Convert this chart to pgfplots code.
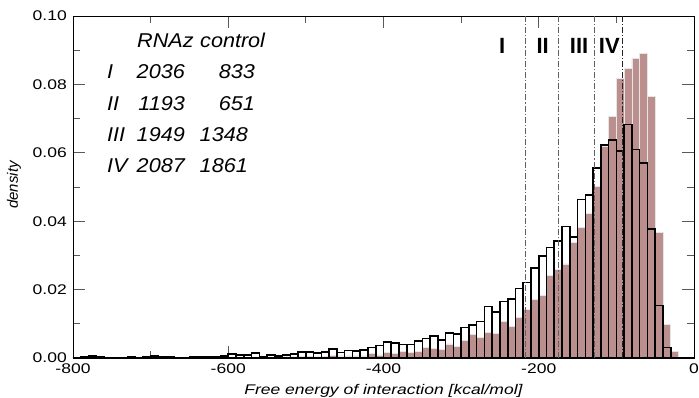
\documentclass[border=0pt]{standalone}
\usepackage{fontspec}
\setmainfont{Liberation Sans}
\newfontfamily\tickfont[FakeStretch=1.25]{Liberation Sans}
\newfontfamily\legfont[FakeStretch=1.08]{Liberation Sans}
\usepackage{pgfplots}
\pgfplotsset{compat=1.18}
\usepackage{pgfplotstable}
\definecolor{rosy}{RGB}{188,143,143}

\pgfplotstableread{
x o f
-800 0.0001 0.0
-790 0.0004 0.0001
-780 0.0005 0.0
-770 0.0003 0.0001
-760 0.0002 0.0
-750 0.0001 0.0
-740 0.0001 0.0001
-730 0.0004 0.0
-720 0.0002 0.0
-710 0.0004 0.0001
-700 0.0005 0.0001
-690 0.0004 0.0
-680 0.0003 0.0001
-670 0.0002 0.0
-660 0.0002 0.0001
-650 0.0003 0.0001
-640 0.0003 0.0
-630 0.0004 0.0001
-620 0.0004 0.0001
-610 0.0006 0.0001
-600 0.0011 0.0002
-590 0.0008 0.0001
-580 0.0008 0.0002
-570 0.0014 0.0002
-560 0.0003 0.0002
-550 0.0008 0.0002
-540 0.0005 0.0002
-530 0.0008 0.0003
-520 0.0012 0.0003
-510 0.0018 0.0004
-500 0.0018 0.0004
-490 0.0014 0.0003
-480 0.0018 0.0004
-470 0.0027 0.0008
-460 0.0016 0.0006
-450 0.0022 0.0006
-440 0.0021 0.0006
-430 0.0024 0.0006
-420 0.0031 0.0012
-410 0.0036 0.0009
-400 0.0046 0.0016
-390 0.0043 0.0012
-380 0.0040 0.0018
-370 0.0040 0.0017
-360 0.0050 0.0018
-350 0.0057 0.0031
-340 0.0064 0.0028
-330 0.0053 0.0025
-320 0.0073 0.0041
-310 0.0071 0.0033
-300 0.0089 0.0051
-290 0.0097 0.0070
-280 0.0107 0.0059
-270 0.0150 0.0074
-260 0.0135 0.0072
-250 0.0165 0.0106
-240 0.0173 0.0092
-230 0.0203 0.0118
-220 0.0221 0.0142
-210 0.0263 0.0170
-200 0.0298 0.0184
-190 0.0323 0.0241
-180 0.0342 0.0259
-170 0.0384 0.0275
-160 0.0353 0.0339
-150 0.0463 0.0382
-140 0.0477 0.0423
-130 0.0555 0.0501
-120 0.0623 0.0620
-110 0.0637 0.0706
-100 0.0605 0.0817
-90 0.0683 0.0846
-80 0.0610 0.0875
-70 0.0571 0.0891
-60 0.0377 0.0764
-50 0.0153 0.0367
-40 0.0031 0.0099
-30 0.0 0.0018
-20 0.0 0.0
-10 0.0 0.0
0 0.0 0.0
}\histdata

\begin{document}
\begin{tikzpicture}
\useasboundingbox (-73pt,-40pt) rectangle (626pt,358pt);
\begin{axis}[
  at={(0,0)}, anchor=south west,
  scale only axis, width=621pt, height=342pt,
  xmin=-800, xmax=0, ymin=0, ymax=0.1,
  xtick={-800,-600,-400,-200,0},
  minor xtick={-700,-500,-300,-100},
  ytick={0,0.02,0.04,0.06,0.08,0.1},
  minor ytick={0.01,0.03,0.05,0.07,0.09},
  tick align=inside,
  major tick length=12pt, minor tick length=7pt,
  every tick/.style={gray!70!black, line width=0.8pt},
  axis line style={black, line width=0.9pt},
  scaled y ticks=false,
  /pgf/number format/assume math mode=true,
  y tick label style={/pgf/number format/fixed, /pgf/number format/fixed zerofill, /pgf/number format/precision=2,
    font=\tickfont\fontsize{14}{16}\selectfont, anchor=east, inner sep=0pt, xshift=-6pt},
  x tick label style={font=\tickfont\fontsize{14}{16}\selectfont, anchor=north, inner sep=0pt, yshift=-5.5pt},
]
\addplot[ybar interval, fill=rosy, draw=gray!20, line width=0.8pt] table[x=x,y=f]{\histdata};
\addplot[ybar interval, fill=none, draw=black, line width=1.6pt] table[x=x,y=o]{\histdata};
\addplot[gray!75!black, line width=0.9pt, dash pattern=on 6pt off 2pt on 1.2pt off 2pt] coordinates {(-217,0) (-217,0.1)};
\addplot[gray!75!black, line width=0.9pt, dash pattern=on 6pt off 2pt on 1.2pt off 2pt] coordinates {(-175,0) (-175,0.1)};
\addplot[gray!75!black, line width=0.9pt, dash pattern=on 6pt off 2pt on 1.2pt off 2pt] coordinates {(-128,0) (-128,0.1)};
\addplot[black!85, line width=0.9pt, dash pattern=on 6pt off 2pt on 1.2pt off 2pt] coordinates {(-92,0) (-92,0.1)};
\node[font=\bfseries\fontsize{22}{24}\selectfont] at (axis cs:-247,0.0912) {I};
\node[font=\bfseries\fontsize{22}{24}\selectfont] at (axis cs:-195,0.0912) {II};
\node[font=\bfseries\fontsize{22}{24}\selectfont] at (axis cs:-148,0.0912) {III};
\node[font=\bfseries\fontsize{22}{24}\selectfont] at (axis cs:-109,0.0912) {IV};
\end{axis}
% legend table (text)
\begin{scope}[every node/.style={inner sep=0pt, font=\legfont\itshape\fontsize{20}{22}\selectfont}]
\node[anchor=base west] at (64pt,310pt) {RNAz};
\node[anchor=base west] at (127pt,310pt) {control};
\node[anchor=base west] at (34pt,279pt) {I};
\node[anchor=base east] at (112pt,279pt) {2036};
\node[anchor=base east] at (182pt,279pt) {833};
\node[anchor=base west] at (34pt,247pt) {II};
\node[anchor=base east] at (112pt,247pt) {1193};
\node[anchor=base east] at (182pt,247pt) {651};
\node[anchor=base west] at (34pt,216pt) {III};
\node[anchor=base east] at (112pt,216pt) {1949};
\node[anchor=base east] at (175pt,216pt) {1348};
\node[anchor=base west] at (34pt,185pt) {IV};
\node[anchor=base east] at (112pt,185pt) {2087};
\node[anchor=base east] at (175pt,185pt) {1861};
\end{scope}
\node[rotate=90, inner sep=0pt, font=\itshape\fontsize{15}{17}\selectfont] at (-59pt,173pt) {density};
\node[inner sep=0pt, font=\tickfont\itshape\fontsize{14}{16}\selectfont] at (310.5pt,-32.5pt) {Free energy of interaction [kcal/mol]};
\end{tikzpicture}
\end{document}
